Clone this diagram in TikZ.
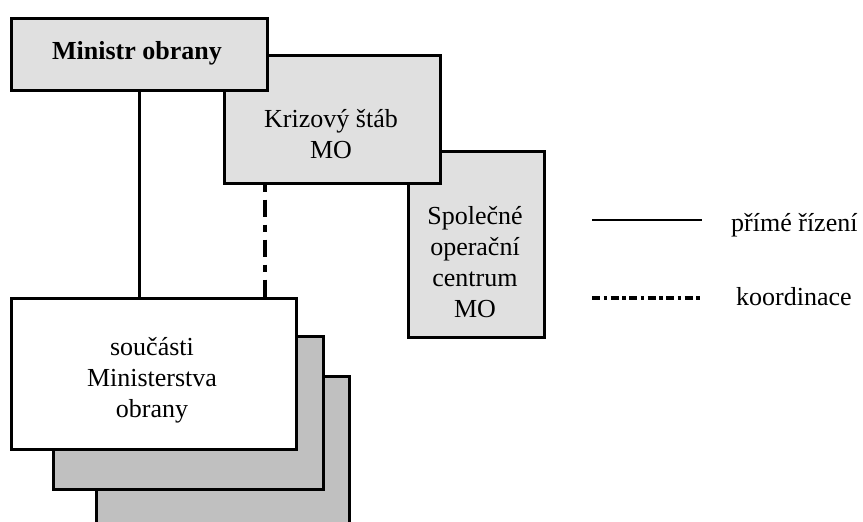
\documentclass[tikz,border=0pt]{standalone}
\usepackage{fontspec}
\setmainfont{Liberation Serif}
\begin{document}
\begin{tikzpicture}[x=1pt,y=-1pt,
  box/.style={draw=black,line width=2.5pt,inner sep=0pt,anchor=north west},
  light/.style={box,fill=lightgray1},
  dark/.style={box,fill=darkgray1},
  lbl/.style={align=center,inner sep=0pt,font=\fontsize{26}{31}\selectfont},
  direct/.style={line width=2.5pt},
  coord/.style={line width=3.2pt,dash pattern=on 7pt off 8pt on 17pt off 8pt},
  coordleg/.style={line width=3.2pt,dash pattern=on 8pt off 3.5pt on 3.5pt off 3.5pt}]
\definecolor{lightgray1}{HTML}{E0E0E0}
\definecolor{darkgray1}{HTML}{C0C0C0}
\useasboundingbox (0,0) rectangle (863,522);
\clip (0,0) rectangle (863,522);
% stack of component boxes
\node[dark,minimum width=253pt,minimum height=160pt] (back3) at (95,375) {};
\node[dark,minimum width=270pt,minimum height=153pt] (back2) at (52,335) {};
\node[box,fill=white,minimum width=285pt,minimum height=151pt] (front) at (10,297) {};
\node[lbl] (fronttext) at (152,380) {součásti\\Ministerstva\\obrany};
% operations centre
\node[light,minimum width=136pt,minimum height=186pt] (soc) at (407,150) {};
\node[lbl] (soctext) at (475,262) {Společné\\operační\\centrum\\MO};
% crisis staff
\node[light,minimum width=216pt,minimum height=128pt] (kriz) at (223,54) {};
\node[lbl] (kriztext) at (331,134) {Krizový štáb\\MO};
% minister
\node[light,minimum width=256pt,minimum height=72pt] (min) at (10,17) {};
\node[lbl,font=\fontsize{26}{31}\selectfont\bfseries] (mintext) at (137,53) {Ministr obrany};
% connectors
\draw[direct] (min.south) -- (min.south |- front.north);
\coordinate (dx) at (265,0);
\draw[coord] (kriz.south -| dx) -- (front.north -| dx);
% legend
\coordinate (l1a) at (592,220);
\coordinate (l1b) at (702,220);
\coordinate (l2a) at (592,298);
\coordinate (l2b) at (702,298);
\draw[direct] (l1a) -- (l1b);
\draw[coordleg] (l2a) -- (l2b);
\node[lbl,anchor=base west] (leg1) at (731,231) {přímé řízení};
\node[lbl,anchor=base west] (leg2) at (736,305) {koordinace};
\end{tikzpicture}
\end{document}
